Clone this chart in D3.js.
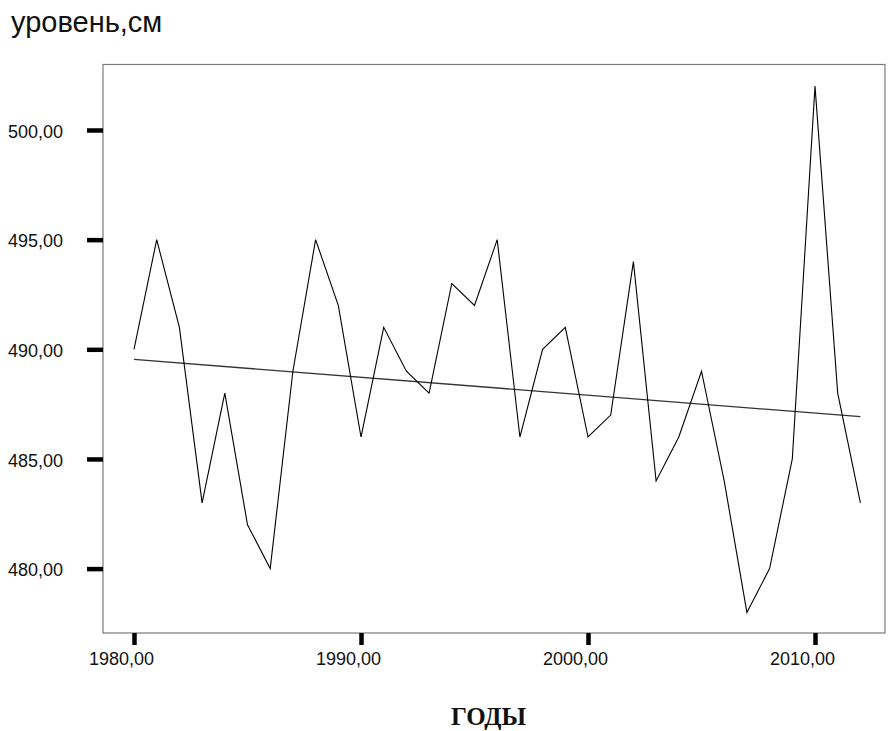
<!DOCTYPE html>
<html><head><meta charset="utf-8">
<script src="https://cdn.jsdelivr.net/npm/d3@7"></script>
<style>body{margin:0;background:#fff}</style>
</head><body>
<svg id="c" width="889" height="731"></svg>
<script>
const years = [1980,1981,1982,1983,1984,1985,1986,1987,1988,1989,1990,1991,1992,1993,1994,1995,1996,1997,1998,1999,2000,2001,2002,2003,2004,2005,2006,2007,2008,2009,2010,2011,2012];
const levels = [490,495,491,483,488,482,480,489,495,492,486,491,489,488,493,492,495,486,490,491,486,487,494,484,486,489,484,478,480,485,502,488,483];
const trendYears = [1980, 2012];
const trendLevels = [489.54, 486.93];
const xTicks = [1980,1990,2000,2010];
const yTicks = [480,485,490,495,500];
const title = "уровень,см";
const xTitle = "ГОДЫ";

const svg = d3.select("#c");
const box = {l:103, r:885, t:64.5, b:633};
const x = d3.scaleLinear().domain([1980,2010]).range([134,815]);
const y = d3.scaleLinear().domain([490,500]).range([349.3,130]);
const fmt = v => d3.format(".2f")(v).replace(".", ",");

svg.append("rect").attr("x",box.l).attr("y",box.t).attr("width",box.r-box.l).attr("height",box.b-box.t)
  .attr("fill","none").attr("stroke","#7a7a7a").attr("stroke-width",1.2);

// y axis
const ya = svg.append("g").attr("transform",`translate(${box.l},0)`)
  .call(d3.axisLeft(y).tickValues(yTicks).tickFormat(fmt).tickSize(16).tickPadding(24));
ya.select(".domain").remove();
ya.selectAll(".tick line").attr("stroke","#000").attr("stroke-width",4.5);
ya.selectAll(".tick text").attr("font-family","Liberation Sans, Arial, sans-serif").attr("font-size",18).attr("fill","#111").attr("dy","0.4em");

// x axis
const xa = svg.append("g").attr("transform",`translate(0,${box.b})`)
  .call(d3.axisBottom(x).tickValues(xTicks).tickFormat(fmt).tickSize(12).tickPadding(7));
xa.select(".domain").remove();
xa.selectAll(".tick line").attr("stroke","#000").attr("stroke-width",4.5);
xa.selectAll(".tick text").attr("font-family","Liberation Sans, Arial, sans-serif").attr("font-size",18).attr("fill","#111").attr("dx",-13);

// trend
svg.append("path").datum(trendYears.map((d,i)=>[d,trendLevels[i]]))
  .attr("d", d3.line().x(d=>x(d[0])).y(d=>y(d[1])))
  .attr("fill","none").attr("stroke","#333").attr("stroke-width",1.3);

// data line
svg.append("path").datum(years.map((d,i)=>[d,levels[i]]))
  .attr("d", d3.line().x(d=>x(d[0])).y(d=>y(d[1])))
  .attr("fill","none").attr("stroke","#000").attr("stroke-width",1.1);

svg.append("text").attr("x",11).attr("y",32).text(title)
  .attr("font-family","Liberation Sans, Arial, sans-serif").attr("font-size",29).attr("fill","#111");
svg.append("text").attr("x",488.5).attr("y",725).attr("text-anchor","middle").text(xTitle)
  .attr("font-family","Liberation Serif, Times New Roman, serif").attr("font-weight","bold").attr("font-size",25).attr("fill","#111");
</script>
</body></html>
